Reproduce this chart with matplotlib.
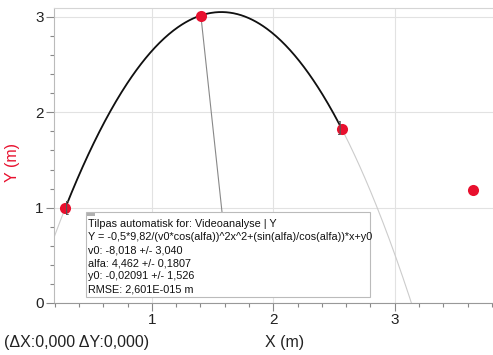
import numpy as np
import matplotlib
matplotlib.use("Agg")
import matplotlib.pyplot as plt
import matplotlib.ticker as ticker
from matplotlib.patches import Rectangle

plt.rcParams["font.family"] = ["Liberation Sans", "DejaVu Sans"]

# measured positions (m)
x_pts = [0.284, 1.403, 2.566, 3.645]
y_pts = [0.997, 3.015, 1.826, 1.186]

# fit parameters shown in the box
g = 9.82
v0 = -8.018
alfa = 4.462
y0 = -0.02091

box_lines = [
    "Tilpas automatisk for: Videoanalyse | Y",
    "Y = -0,5*9,82/(v0*cos(alfa))^2x^2+(sin(alfa)/cos(alfa))*x+y0",
    "v0: -8,018 +/- 3,040",
    "alfa: 4,462 +/- 0,1807",
    "y0: -0,02091 +/- 1,526",
    "RMSE: 2,601E-015 m",
]

RED = "#e8102e"
W, H = 493, 355


def fit(x):
    return -0.5 * g / (v0 * np.cos(alfa)) ** 2 * x ** 2 + np.tan(alfa) * x + y0


fig = plt.figure(figsize=(W / 100, H / 100), dpi=100)
ax = fig.add_axes([54 / W, 1 - 303 / H, 1 - 54 / W, (303 - 8) / H])
ax.set_xlim(0.193, 3.81)
ax.set_ylim(0, 3.094)

# fitted curve: full extent faint, fitted range in black
xx = np.linspace(0.193, 3.81, 400)
ax.plot(xx, fit(xx), color="#cccccc", lw=0.8, zorder=2)
xf = np.linspace(x_pts[0], x_pts[2], 300)
ax.plot(xf, fit(xf), color="#111111", lw=1.3, zorder=3)

ax.plot(x_pts, y_pts, "o", color=RED, ms=8, mec="none", zorder=6)

# range brackets
ax.annotate("[", (x_pts[0], y_pts[0]), xytext=(2, 0), textcoords="offset pixels",
            ha="center", va="center", fontsize=10, color="#555555", zorder=7)
ax.annotate("]", (x_pts[2], y_pts[2]), xytext=(-2, 1), textcoords="offset pixels",
            ha="center", va="center", fontsize=10, color="#555555", zorder=7)

# axes styling
ax.spines["right"].set_visible(False)
ax.spines["top"].set_color("#d5d5d5")
ax.spines["left"].set_color("#bbbbbb")
ax.spines["bottom"].set_color("#999999")
ax.xaxis.set_major_locator(ticker.MultipleLocator(1))
ax.xaxis.set_minor_locator(ticker.MultipleLocator(0.2))
ax.yaxis.set_major_locator(ticker.MultipleLocator(1))
ax.yaxis.set_minor_locator(ticker.MultipleLocator(0.2))
ax.tick_params(which="major", length=5.5, width=0.8, color="#888888",
               labelsize=11, labelcolor="#222222", pad=2)
ax.tick_params(which="minor", length=3, width=0.8, color="#888888")
ax.grid(True, which="major", color="#e2e2e2", lw=0.8)
ax.set_axisbelow(True)

# fit info box
bx0, by0, bx1, by1 = 86, 212, 370, 297
fig.patches.append(Rectangle((bx0 / W, 1 - by1 / H), (bx1 - bx0) / W, (by1 - by0) / H,
                             transform=fig.transFigure, facecolor="white",
                             edgecolor="#bbbbbb", lw=0.8, zorder=8))
fig.patches.append(Rectangle((87 / W, 1 - 216 / H), 8 / W, 3.5 / H,
                             transform=fig.transFigure, facecolor="#b0b0b0",
                             edgecolor="none", zorder=9))
for i, line in enumerate(box_lines):
    fig.text(88 / W, 1 - (224 + i * 13.1) / H, line, fontsize=7.8, color="#111111",
             va="center", ha="left", zorder=9)

# leader line from box to the fitted point
ax.annotate("", xy=(x_pts[1], y_pts[1]), xytext=(222 / W, 1 - by0 / H),
            textcoords="figure fraction",
            arrowprops=dict(arrowstyle="-", color="#888888", lw=0.8,
                            shrinkA=0, shrinkB=0), zorder=4)

fig.text(285 / W, 1 - 343 / H, "X (m)", fontsize=11.5, color="#222222",
         ha="center", va="center")
fig.text(13 / W, 1 - 162 / H, "Y (m)", fontsize=11.5, color=RED,
         ha="center", va="center", rotation=90)
fig.text(4 / W, 1 - 343 / H, "(\u0394X:0,000 \u0394Y:0,000)", fontsize=11.5,
         color="#222222", ha="left", va="center")

fig.savefig("out.png", dpi=100)
